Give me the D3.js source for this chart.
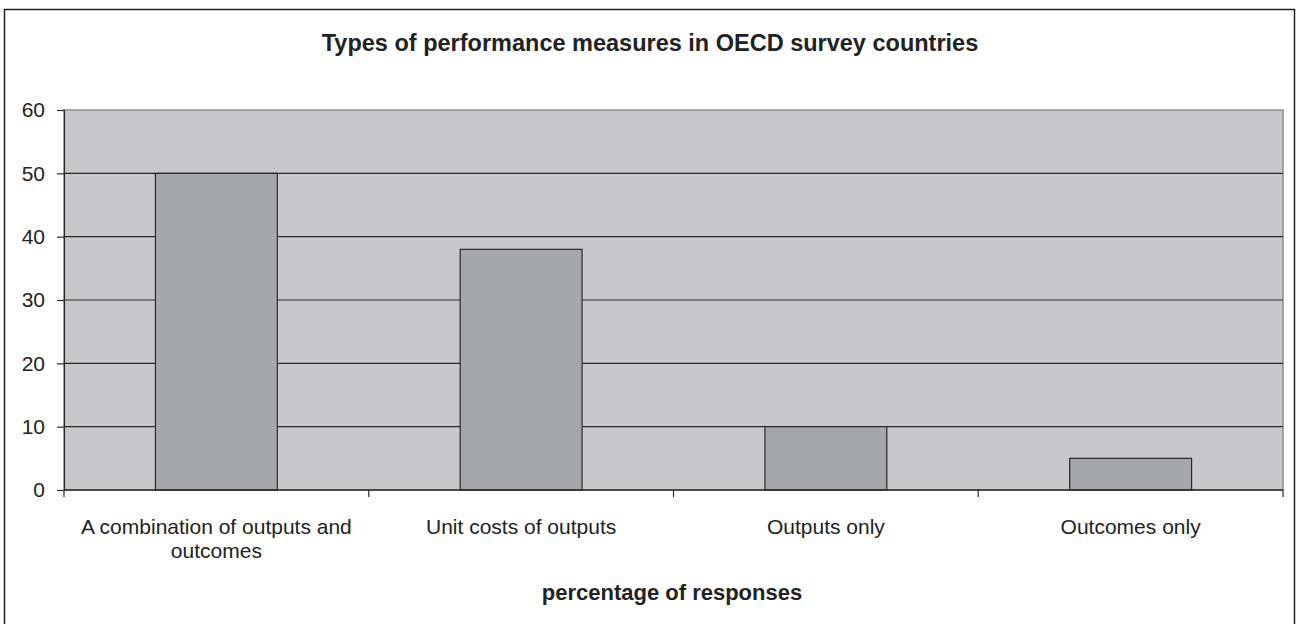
<!DOCTYPE html>
<html>
<head>
<meta charset="utf-8">
<script src="https://cdn.jsdelivr.net/npm/d3@7"></script>
<style>
  body { margin: 0; background: #fff; }
  svg { display: block; font-family: "Liberation Sans", Arial, sans-serif; }
</style>
</head>
<body>
<svg id="chart" width="1297" height="624"></svg>
<script>
  const categories = [
    ["A combination of outputs and", "outcomes"],
    ["Unit costs of outputs"],
    ["Outputs only"],
    ["Outcomes only"]
  ];
  const values = [50, 38, 10, 5];
  const yTicks = [0, 10, 20, 30, 40, 50, 60];

  const svg = d3.select("#chart");
  const plotL = 64, plotR = 1283, plotT = 110, plotB = 490;

  // outer frame (bottom edge runs off the picture)
  svg.append("rect")
    .attr("x", 4.5).attr("y", 9.5)
    .attr("width", 1290).attr("height", 640)
    .attr("fill", "none").attr("stroke", "#222").attr("stroke-width", 1.5);

  const x = d3.scaleBand().domain(d3.range(categories.length)).range([plotL, plotR]).paddingInner(0).paddingOuter(0);
  const y = d3.scaleLinear().domain([0, 60]).range([plotB, plotT]);

  // plot area
  svg.append("rect")
    .attr("x", plotL).attr("y", plotT)
    .attr("width", plotR - plotL).attr("height", plotB - plotT)
    .attr("fill", "#c8c8ca").attr("stroke", "#8e8e90").attr("stroke-width", 1.5);

  // gridlines
  svg.append("g")
    .selectAll("line")
    .data(yTicks.filter(t => t > 0 && t < 60))
    .join("line")
    .attr("x1", plotL).attr("x2", plotR)
    .attr("y1", d => y(d)).attr("y2", d => y(d))
    .attr("stroke", "#2a2a2a").attr("stroke-width", 1.2);

  // bars
  const bw = x.bandwidth() * 0.4;
  svg.append("g")
    .selectAll("rect")
    .data(values)
    .join("rect")
    .attr("x", (d, i) => x(i) + (x.bandwidth() - bw) / 2)
    .attr("y", d => y(d))
    .attr("width", bw)
    .attr("height", d => y(0) - y(d))
    .attr("fill", "#a6a7aa").attr("stroke", "#2a2a2a").attr("stroke-width", 1.2);

  // y axis
  const yAxis = svg.append("g")
    .attr("transform", `translate(${plotL},0)`)
    .call(d3.axisLeft(y).tickValues(yTicks).tickSize(7).tickPadding(12));
  yAxis.select(".domain").attr("stroke", "#2a2a2a").attr("stroke-width", 1.2);
  yAxis.selectAll(".tick line").attr("stroke", "#2a2a2a").attr("stroke-width", 1.2);
  yAxis.selectAll(".tick text").attr("font-size", 21).attr("fill", "#222").attr("font-family", "Liberation Sans, Arial, sans-serif");

  // x axis baseline + ticks between categories
  svg.append("line")
    .attr("x1", plotL).attr("x2", plotR)
    .attr("y1", plotB).attr("y2", plotB)
    .attr("stroke", "#2a2a2a").attr("stroke-width", 1.5);
  svg.append("g")
    .selectAll("line")
    .data(d3.range(categories.length + 1))
    .join("line")
    .attr("x1", i => i < categories.length ? x(i) : plotR)
    .attr("x2", i => i < categories.length ? x(i) : plotR)
    .attr("y1", plotB).attr("y2", plotB + 7)
    .attr("stroke", "#2a2a2a").attr("stroke-width", 1.2);

  // category labels
  const lbl = svg.append("g")
    .selectAll("text")
    .data(categories)
    .join("text")
    .attr("x", (d, i) => x(i) + x.bandwidth() / 2)
    .attr("y", 534)
    .attr("text-anchor", "middle")
    .attr("font-size", 21).attr("fill", "#222");
  lbl.selectAll("tspan")
    .data(d => d)
    .join("tspan")
    .attr("x", function () { return this.parentNode.getAttribute("x"); })
    .attr("dy", (d, i) => i === 0 ? 0 : 24)
    .text(d => d);

  // title
  svg.append("text")
    .attr("x", 650).attr("y", 51)
    .attr("text-anchor", "middle")
    .attr("font-size", 23.5).attr("font-weight", "bold").attr("fill", "#222")
    .text("Types of performance measures in OECD survey countries");

  // x axis title
  svg.append("text")
    .attr("x", 672).attr("y", 600)
    .attr("text-anchor", "middle")
    .attr("font-size", 22).attr("font-weight", "bold").attr("fill", "#222")
    .text("percentage of responses");
</script>
</body>
</html>
